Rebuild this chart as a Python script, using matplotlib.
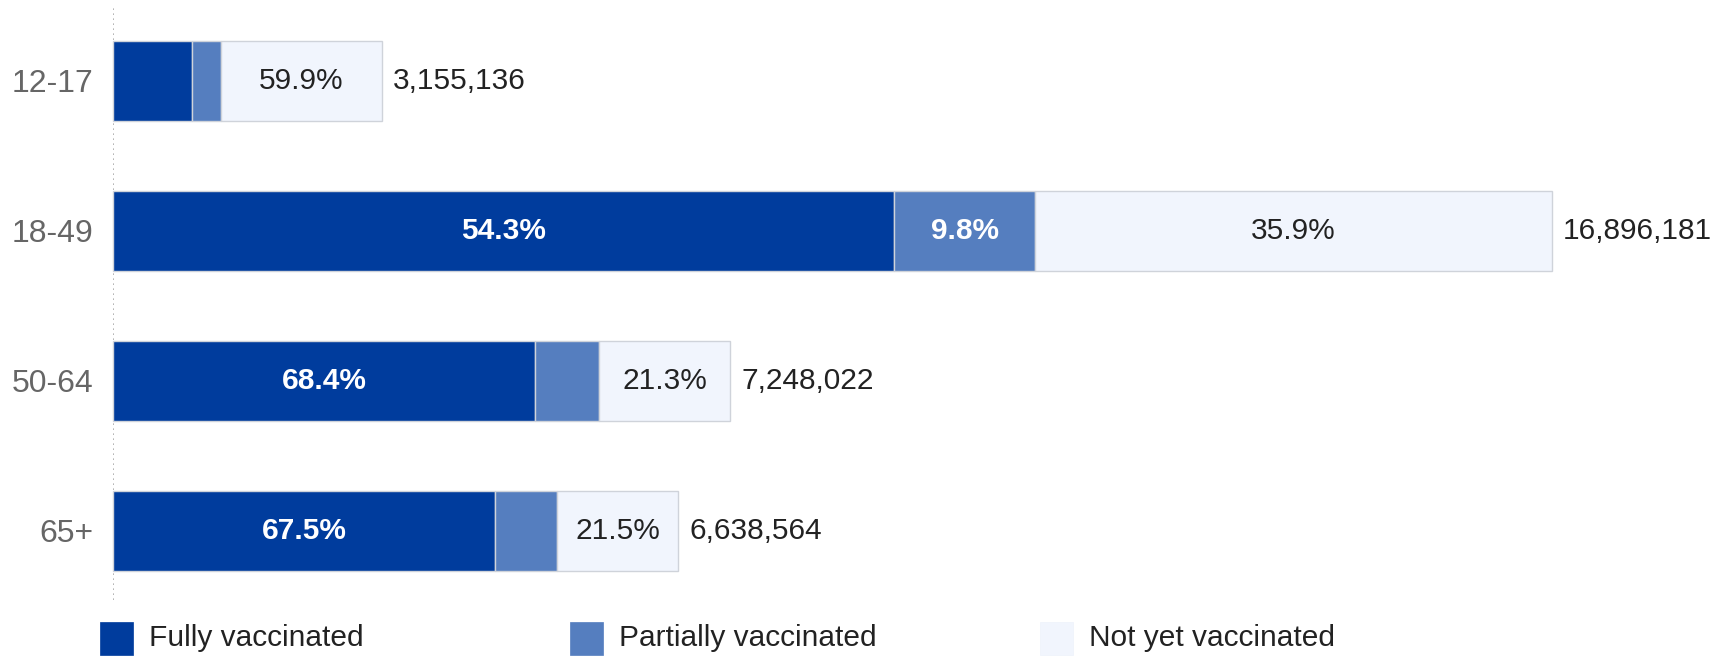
import matplotlib
matplotlib.use("Agg")
import matplotlib.pyplot as plt
from matplotlib.patches import Rectangle
import numpy as np

plt.rcParams['font.family'] = ['Liberation Sans', 'DejaVu Sans']

# ---- data ----
age_groups = ["12-17", "18-49", "50-64", "65+"]
population = [3155136, 16896181, 7248022, 6638564]
fully_pct = [29.3, 54.3, 68.4, 67.5]
partial_pct = [10.8, 9.8, 10.3, 11.0]
not_yet_pct = [59.9, 35.9, 21.3, 21.5]
series_names = ["Fully vaccinated", "Partially vaccinated", "Not yet vaccinated"]

colors = ["#003c9d", "#557ebf", "#f1f5fd"]
text_colors = ["white", "white", "#222222"]
text_weights = ["bold", "bold", "normal"]

W, H = 1726, 656
fig = plt.figure(figsize=(W / 100, H / 100), dpi=100)
ax_left, ax_right = 113, 1552
ax_top, ax_bot = 6, 600
ax = fig.add_axes([ax_left / W, 1 - ax_bot / H, (ax_right - ax_left) / W, (ax_bot - ax_top) / H])

pop = np.array(population, dtype=float)
segs = [np.array(fully_pct), np.array(partial_pct), np.array(not_yet_pct)]
ypos = np.arange(len(age_groups))
bar_h = 0.533

ax.set_xlim(0, pop.max())
ax.set_ylim(len(age_groups) - 1 + 0.46, -0.5)

fig.canvas.draw()
renderer = fig.canvas.get_renderer()

left = np.zeros(len(age_groups))
for s, pct in enumerate(segs):
    widths = pop * pct / 100.0
    bars = ax.barh(ypos, widths, left=left, height=bar_h, color=colors[s],
                   edgecolor="#cfd3da", linewidth=1.0, zorder=2)
    for b in bars:
        b.set_clip_on(False)
    for i in range(len(age_groups)):
        cx = left[i] + widths[i] / 2
        t = ax.text(cx, ypos[i], f"{pct[i]:.1f}%", ha="center", va="center",
                    fontsize=21.5, color=text_colors[s], fontweight=text_weights[s], zorder=3)
        bb = t.get_window_extent(renderer=renderer)
        x0 = ax.transData.transform((left[i], 0))[0]
        x1 = ax.transData.transform((left[i] + widths[i], 0))[0]
        if bb.width + 10 > (x1 - x0):
            t.remove()
    left = left + widths

for i in range(len(age_groups)):
    ax.annotate(f"{population[i]:,}", xy=(pop[i], ypos[i]), xytext=(11, 0),
                textcoords="offset pixels", ha="left", va="center",
                fontsize=21.5, color="#222222", annotation_clip=False)

ax.set_yticks(ypos)
ax.set_yticklabels(age_groups, fontsize=23, color="#666666")
ax.tick_params(axis="y", length=0, pad=14)
ax.set_xticks([])
for sp in ax.spines.values():
    sp.set_visible(False)
ax.axvline(0, color="#a8a8a8", linestyle=(0, (1, 2)), linewidth=1.2, zorder=1)

# legend
leg_x = [100, 570, 1040]
sq = 33
sq_top = 622
for k, name in enumerate(series_names):
    fig.add_artist(Rectangle((leg_x[k] / W, 1 - (sq_top + sq) / H), sq / W, sq / H,
                             transform=fig.transFigure, facecolor=colors[k],
                             edgecolor=colors[k] if k < 2 else "#eef2fb", linewidth=0.5))
    fig.text((leg_x[k] + sq + 16) / W, 1 - (sq_top + sq / 2) / H, name,
             ha="left", va="center", fontsize=21.5, color="#222222")

fig.savefig("out.png", dpi=100, facecolor="white")
